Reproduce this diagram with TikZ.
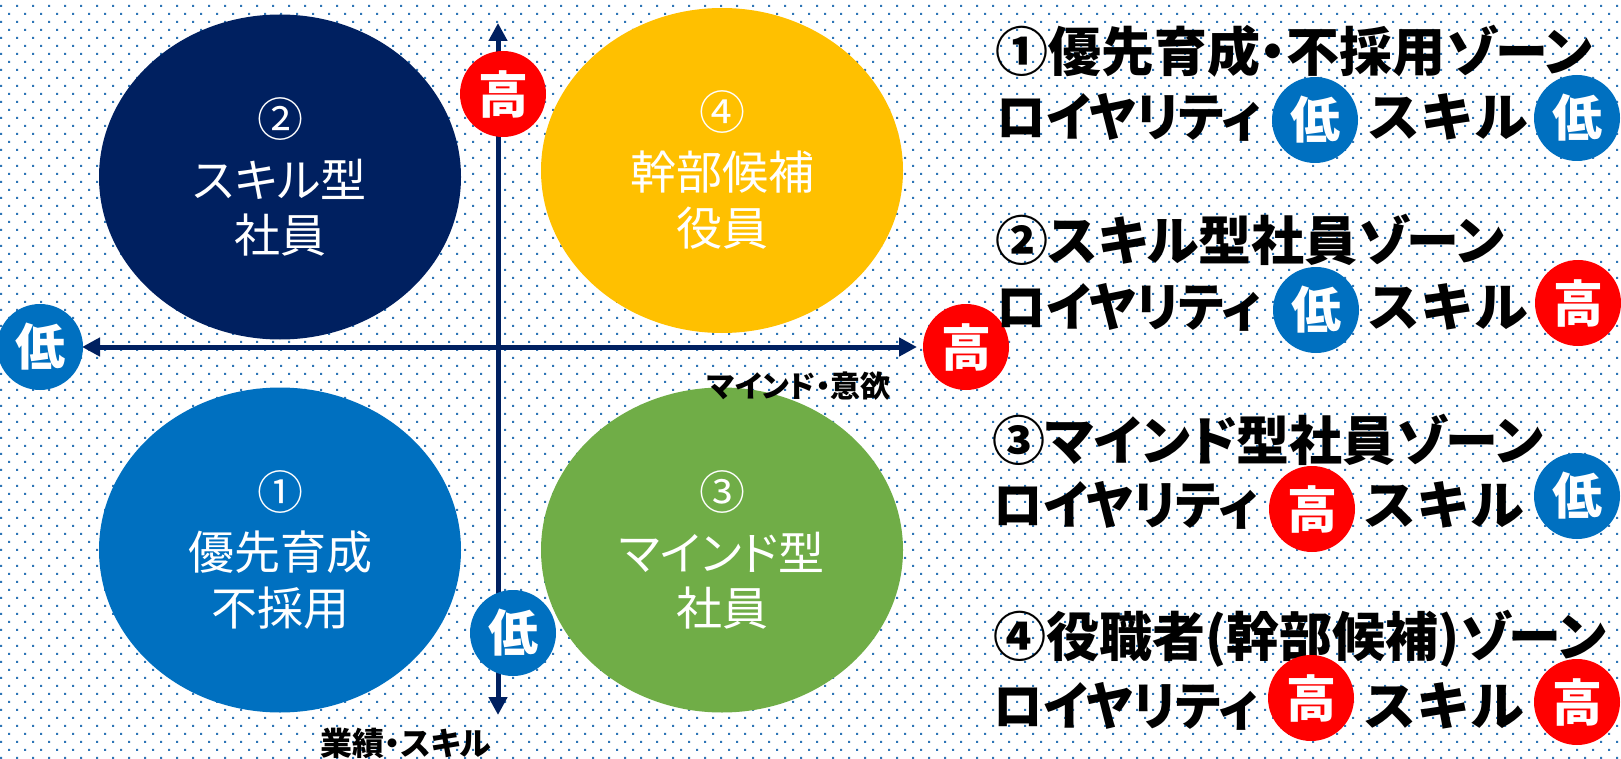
\documentclass[tikz,border=0pt]{standalone}
\usepackage{fontspec}
\newfontfamily\jp{Noto Sans CJK JP}[RawFeature=+palt]
\newfontfamily\jpf{Noto Sans CJK JP}
\usetikzlibrary{patterns,shapes.geometric,arrows.meta}
\definecolor{navy}{HTML}{002060}
\definecolor{zblue}{HTML}{0070C0}
\definecolor{zyellow}{HTML}{FFC000}
\definecolor{zgreen}{HTML}{70AD47}
\definecolor{zred}{HTML}{FF0000}
\definecolor{dotblue}{HTML}{2E75B6}
\pgfdeclarepatternformonly{jdots}{\pgfqpoint{-1pt}{-1pt}}{\pgfqpoint{17pt}{17pt}}{\pgfqpoint{16pt}{16pt}}{%
  \pgfpathrectangle{\pgfqpoint{0pt}{0pt}}{\pgfqpoint{2.2pt}{2.2pt}}%
  \pgfpathrectangle{\pgfqpoint{8pt}{8pt}}{\pgfqpoint{2.2pt}{2.2pt}}%
  \pgfusepath{fill}}
\tikzset{
  zone/.style={ellipse, minimum width=362pt, minimum height=325pt, inner sep=0pt},
  ztext/.style={text=white, inner sep=0pt, font=\jp\fontsize{46pt}{50pt}\selectfont},
  badge/.style={circle, minimum size=86pt, inner sep=0pt, text=white, font=\jp\bfseries\fontsize{50pt}{50pt}\selectfont},
  hi/.style={badge, fill=zred},
  lo/.style={badge, fill=zblue},
  axisline/.style={line width=5pt, draw=navy, {Triangle[length=18pt,width=18pt]}-{Triangle[length=18pt,width=18pt]}},
  head/.style={anchor=west, inner sep=0pt, font=\jp\bfseries\fontsize{53pt}{53pt}\selectfont},
  loy/.style={anchor=west, inner sep=0pt, font=\jp\bfseries\fontsize{52pt}{52pt}\selectfont},
  skl/.style={anchor=west, inner sep=0pt, font=\jpf\bfseries\fontsize{52pt}{52pt}\selectfont},
  axlabel/.style={inner sep=0pt, font=\jp\bfseries\fontsize{30pt}{30pt}\selectfont}
}
\newcommand{\loyal}{\scalebox{0.95}[1]{ロイヤリティ}}
\newcommand{\skil}{\scalebox{1.04}[1]{スキル}}
\begin{document}
\begin{tikzpicture}[x=1pt,y=-1pt]
\useasboundingbox (0,0) rectangle (1621,759);
\fill[white] (0,0) rectangle (1621,759);
\fill[pattern=jdots, pattern color=dotblue] (0,0) rectangle (1621,759);

% zones
\node[zone, fill=navy]    (z2) at (280,177) {};
\node[zone, fill=zyellow] (z4) at (722,170.5) {};
\node[zone, fill=zblue]   (z1) at (280,550) {};
\node[zone, fill=zgreen]  (z3) at (722,550) {};

\node[ztext] (z2a) at (280,119) {②};
\node[ztext] (z2b) at (280,179) {スキル型};
\node[ztext] (z2c) at (280,235) {社員};
\node[ztext] (z4a) at (722,112.5) {④};
\node[ztext] (z4b) at (722,172.5) {幹部候補};
\node[ztext] (z4c) at (722,228.5) {役員};
\node[ztext] (z1a) at (280,492) {①};
\node[ztext] (z1b) at (280,552) {優先育成};
\node[ztext] (z1c) at (280,608) {不採用};
\node[ztext] (z3a) at (722,492) {③};
\node[ztext] (z3b) at (722,552) {マインド型};
\node[ztext] (z3c) at (722,608) {社員};

% axes
\coordinate (hL) at (82,347);
\coordinate (hR) at (917,347);
\coordinate (vT) at (498,23);
\coordinate (vB) at (498,715);
\draw[axisline] (hL) -- (hR);
\draw[axisline] (vT) -- (vB);

\node[lo] (axlo) at (40,347) {低};
\node[hi] (axhi) at (966,347) {高};
\node[hi] (ayhi) at (503,94) {高};
\node[lo] (aylo) at (513,633) {低};

\node[axlabel] (xlab) at (799,386) {マインド・意欲};
\node[axlabel, font=\jp\bfseries\fontsize{32pt}{32pt}\selectfont] (ylab) at (406,743) {業績・スキル};

% right legend
\node[head] (h1) at (995,51) {①優先育成・不採用ゾーン};
\node[loy] (r1) at (996,117) {\loyal};
\node[lo] (b1a) at (1315,120) {低};
\node[skl] (s1) at (1366,117) {\skil};
\node[lo] (b1b) at (1577,118) {低};

\node[head] (h2) at (995,240) {②スキル型社員ゾーン};
\node[loy] (r2) at (996,307) {\loyal};
\node[lo] (b2a) at (1316,310) {低};
\node[skl] (s2) at (1366,307) {\skil};
\node[hi] (b2b) at (1578,303) {高};

\node[head] (h3) at (992,440) {③マインド型社員ゾーン};
\node[loy] (r3) at (993,505) {\loyal};
\node[hi] (b3a) at (1312,509) {高};
\node[skl] (s3) at (1362,505) {\skil};
\node[lo] (b3b) at (1577,496) {低};

\node[head] (h4) at (993,639) {④役職者(幹部候補)ゾーン};
\node[loy] (r4) at (993,706) {\loyal};
\node[hi] (b4a) at (1311,698) {高};
\node[skl] (s4) at (1362,706) {\skil};
\node[hi] (b4b) at (1577,702) {高};
\end{tikzpicture}
\end{document}
